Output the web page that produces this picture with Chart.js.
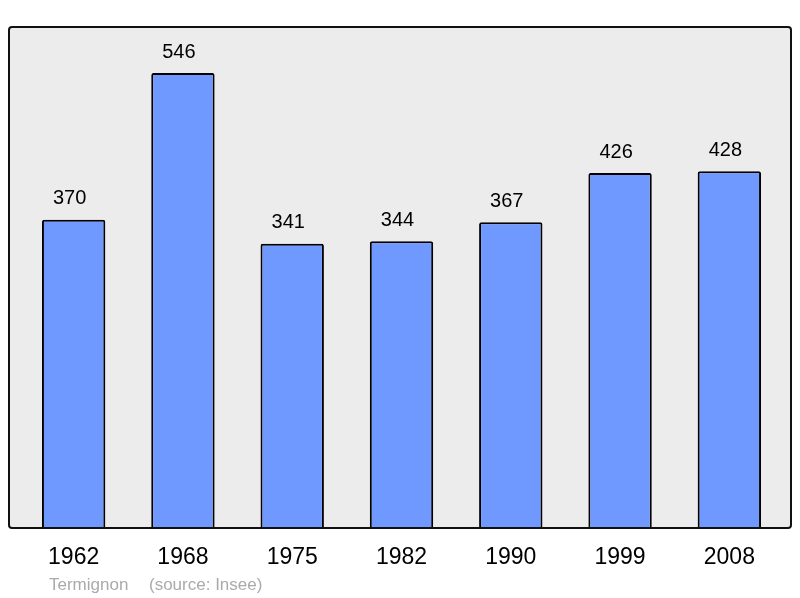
<!DOCTYPE html>
<html>
<head>
<meta charset="utf-8">
<script src="https://cdn.jsdelivr.net/npm/chart.js@4/dist/chart.umd.min.js"></script>
<style>
  body { margin: 0; background: #fff; }
  #wrap { width: 800px; height: 598px; }
</style>
</head>
<body>
<div id="wrap"><canvas id="c" width="800" height="598"></canvas></div>
<script>
const years = ['1962', '1968', '1975', '1982', '1990', '1999', '2008'];
const population = [370, 546, 341, 344, 367, 426, 428];
const footerText = ['Termignon', '(source: Insee)'];

// background panel + rounded frame behind the bars
const panel = {
  id: 'panel',
  beforeDatasetsDraw(chart) {
    const { ctx, chartArea } = chart;
    const x0 = 9, y0 = chartArea.top - 1, x1 = 791, y1 = chartArea.bottom;
    ctx.save();
    ctx.beginPath();
    ctx.roundRect(x0, y0, x1 - x0, y1 - y0, 3);
    ctx.fillStyle = '#ececec';
    ctx.fill();
    ctx.restore();
  },
  afterDatasetsDraw(chart) {
    const { ctx, chartArea } = chart;
    const x0 = 9, y0 = chartArea.top - 1, x1 = 791, y1 = chartArea.bottom;
    ctx.save();
    ctx.beginPath();
    ctx.roundRect(x0, y0, x1 - x0, y1 - y0, 3);
    ctx.lineWidth = 2;
    ctx.strokeStyle = '#111';
    ctx.stroke();

    // value labels above the bars
    const meta = chart.getDatasetMeta(0);
    ctx.fillStyle = '#000';
    ctx.font = '20px "Liberation Sans", Arial, sans-serif';
    ctx.textAlign = 'center';
    ctx.textBaseline = 'middle';
    meta.data.forEach((bar, i) => {
      ctx.fillText(String(population[i]), bar.x - 4, bar.y - 21);
    });

    // footer
    ctx.fillStyle = '#aaaaaa';
    ctx.font = '17px "Liberation Sans", Arial, sans-serif';
    ctx.textAlign = 'left';
    ctx.fillText(footerText[0], 49, 585);
    ctx.fillText(footerText[1], 149, 585);
    ctx.restore();
  }
};

new Chart(document.getElementById('c'), {
  type: 'bar',
  data: {
    labels: years,
    datasets: [{
      data: population,
      backgroundColor: '#7099ff',
      borderColor: '#000',
      borderWidth: 2,
      borderRadius: 2,
      borderSkipped: 'bottom',
      categoryPercentage: 1,
      barPercentage: 0.58
    }]
  },
  options: {
    responsive: false,
    animation: false,
    events: [],
    layout: { padding: { left: 19, right: 16, top: 28, bottom: 0 } },
    plugins: { legend: { display: false }, tooltip: { enabled: false }, title: { display: false } },
    scales: {
      x: {
        grid: { display: false, drawTicks: false },
        border: { display: false },
        ticks: {
          color: '#000',
          padding: 16,
          font: { family: '"Liberation Sans", Arial, sans-serif', size: 23 }
        },
        afterFit(scale) { scale.height = 70; }
      },
      y: {
        display: false,
        min: 0,
        max: 600
      }
    }
  },
  plugins: [panel]
});
</script>
</body>
</html>
